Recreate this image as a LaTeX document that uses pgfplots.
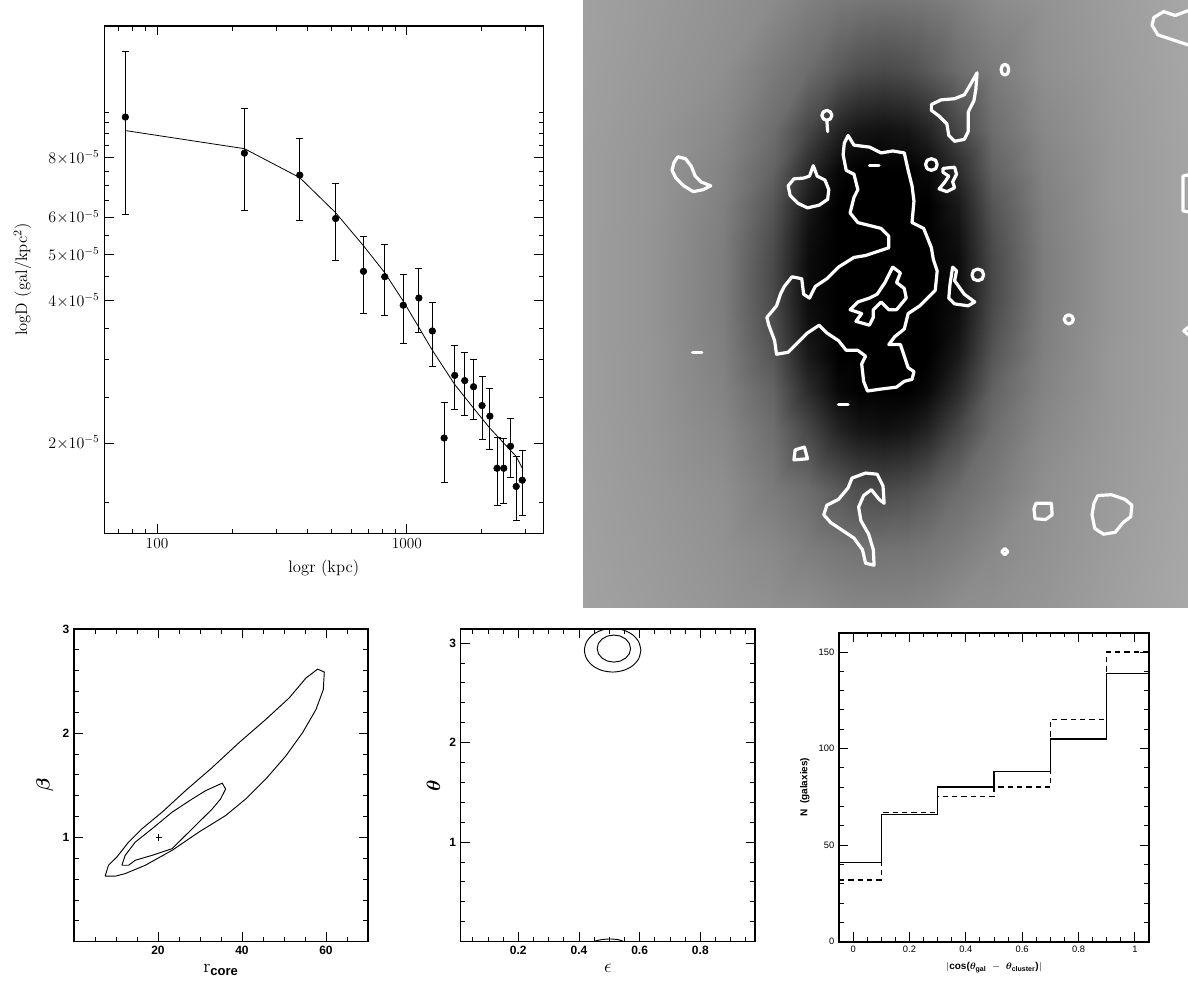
\documentclass[border=0pt]{standalone}
\usepackage{amsmath}
\usepackage{fontspec}
\setsansfont{Liberation Sans}
\usepackage{bm}
\usepackage{pgfplots}
\pgfplotsset{compat=1.18}
\usepackage{pgfplotstable}

\pgfplotstableread{
x y ep em
74.7 9.76e-5 3.67e-5 3.68e-5
223.8 8.19e-5 1.98e-5 1.99e-5
373 7.36e-5 1.44e-5 1.45e-5
519 5.96e-5 1.10e-5 1.10e-5
671 4.61e-5 0.85e-5 0.85e-5
816 4.49e-5 0.77e-5 0.77e-5
968 3.91e-5 0.63e-5 0.66e-5
1118 4.05e-5 0.62e-5 0.62e-5
1266 3.45e-5 0.51e-5 0.54e-5
1411 2.05e-5 0.39e-5 0.40e-5
1556 2.78e-5 0.43e-5 0.43e-5
1706 2.71e-5 0.40e-5 0.42e-5
1851 2.63e-5 0.37e-5 0.39e-5
2002 2.40e-5 0.36e-5 0.36e-5
2152 2.28e-5 0.33e-5 0.34e-5
2298 1.77e-5 0.29e-5 0.29e-5
2445 1.77e-5 0.28e-5 0.28e-5
2603 1.97e-5 0.28e-5 0.28e-5
2742 1.62e-5 0.25e-5 0.25e-5
2900 1.67e-5 0.26e-5 0.26e-5
}\profile

\pgfplotsset{
  pg/.style={scale only axis, anchor=south west, tick align=inside, tick pos=both,
    axis line style={line width=0.9pt}, every tick/.style={black, line width=0.7pt},
    major tick length=7pt, minor tick length=3.5pt, clip=true},
  colormap={imggray}{gray=(0) gray=(1)},
  wc/.style={white, line width=2.4pt, line join=round, line cap=round, mark=none},
}

\begin{document}
\begin{tikzpicture}
\useasboundingbox (0,0) rectangle (891pt,738.75pt);

% ---------------- top-left: density profile
\begin{axis}[pg, at={(78.2pt,338.8pt)}, width=329.25pt, height=380.5pt,
  xmode=log, ymode=log, xmin=61.5, xmax=3520, ymin=1.29e-5, ymax=1.52e-4,
  xtick={100,1000}, xticklabels={100,1000},
  minor xtick={70,80,90,200,300,400,500,600,700,800,900,2000,3000},
  ytick={2e-5,4e-5,5e-5,6e-5,8e-5},
  yticklabels={$2{\times}10^{-5}$,$4{\times}10^{-5}$,$5{\times}10^{-5}$,$6{\times}10^{-5}$,$8{\times}10^{-5}$},
  minor ytick={1.5e-5,2.5e-5,3e-5,3.5e-5,4.5e-5,5.5e-5,6.5e-5,7e-5,7.5e-5,8.5e-5,9e-5,9.5e-5,1e-4},
  tick label style={font=\fontsize{11.5}{13}\selectfont},
  label style={font=\fontsize{12.5}{14}\selectfont},
  xlabel={logr (kpc)}, ylabel={logD (gal/kpc\textsuperscript{2})},
  xlabel style={yshift=-2pt}, ylabel style={yshift=6pt}]
\addplot[black, line width=0.6pt] coordinates {(74.7,9.14e-5) (223.8,8.37e-5) (373,7.27e-5) (519,6.13e-5) (671,5.22e-5) (816,4.58e-5) (968,3.99e-5) (1118,3.51e-5) (1266,3.14e-5) (1556,2.66e-5) (1851,2.37e-5) (2152,2.15e-5) (2445,2.0e-5) (2742,1.875e-5) (2900,1.77e-5)};
\addplot[black, only marks, mark=*, mark size=2.5pt,
  error bars/.cd, y dir=both, y explicit,
  error bar style={line width=0.7pt},
  error mark options={rotate=90, mark size=2.6pt, line width=0.7pt}]
  table[x=x, y=y, y error plus=ep, y error minus=em] {\profile};
\end{axis}

% ---------------- top-right: grey image with white contours
\begin{axis}[scale only axis, anchor=south west, at={(437.25pt,283.5pt)}, width=453.75pt, height=455.25pt,
  xmin=0, xmax=1563, ymin=0, ymax=1568, y dir=reverse, hide axis, clip=true,
  colormap name=imggray, point meta min=0, point meta max=255]
\addplot[surf, shader=interp, mesh/cols=15, point meta=explicit] coordinates {
(0,0)[161] (181,0)[154] (362,0)[146] (491,0)[139] (581,0)[128] (659,0)[121] (710,0)[119] (775,0)[117] (839,0)[119] (891,0)[121] (969,0)[128] (1059,0)[139] (1188,0)[146] (1369,0)[157] (1563,0)[167]

(0,181)[160] (181,181)[152] (362,181)[143] (491,181)[123] (581,181)[109] (659,181)[90] (710,181)[79] (775,181)[74] (839,181)[79] (891,181)[90] (969,181)[109] (1059,181)[123] (1188,181)[143] (1369,181)[155] (1563,181)[166]

(0,336)[159] (181,336)[150] (362,336)[136] (491,336)[110] (581,336)[71] (659,336)[36] (710,336)[22] (775,336)[17] (839,336)[22] (891,336)[36] (969,336)[71] (1059,336)[110] (1188,336)[136] (1369,336)[153] (1563,336)[165]

(0,439)[158] (181,439)[149] (362,439)[131] (491,439)[99] (581,439)[43] (659,439)[8] (710,439)[0] (775,439)[0] (839,439)[0] (891,439)[8] (969,439)[43] (1059,439)[99] (1188,439)[131] (1369,439)[152] (1563,439)[164]

(0,530)[158] (181,530)[149] (362,530)[128] (491,530)[86] (581,530)[25] (659,530)[0] (710,530)[0] (775,530)[0] (839,530)[0] (891,530)[0] (969,530)[25] (1059,530)[86] (1188,530)[128] (1369,530)[152] (1563,530)[164]

(0,607)[158] (181,607)[148] (362,607)[126] (491,607)[78] (581,607)[16] (659,607)[0] (710,607)[0] (775,607)[0] (839,607)[0] (891,607)[0] (969,607)[16] (1059,607)[78] (1188,607)[126] (1369,607)[151] (1563,607)[164]

(0,672)[158] (181,672)[148] (362,672)[125] (491,672)[74] (581,672)[12] (659,672)[0] (710,672)[0] (775,672)[0] (839,672)[0] (891,672)[0] (969,672)[12] (1059,672)[74] (1188,672)[125] (1369,672)[151] (1563,672)[164]

(0,721)[158] (181,721)[148] (362,721)[125] (491,721)[73] (581,721)[11] (659,721)[0] (710,721)[0] (775,721)[0] (839,721)[0] (891,721)[0] (969,721)[11] (1059,721)[73] (1188,721)[125] (1369,721)[151] (1563,721)[164]

(0,775)[158] (181,775)[148] (362,775)[125] (491,775)[74] (581,775)[12] (659,775)[0] (710,775)[0] (775,775)[0] (839,775)[0] (891,775)[0] (969,775)[12] (1059,775)[74] (1188,775)[125] (1369,775)[151] (1563,775)[164]

(0,839)[158] (181,839)[148] (362,839)[126] (491,839)[78] (581,839)[16] (659,839)[0] (710,839)[0] (775,839)[0] (839,839)[0] (891,839)[0] (969,839)[16] (1059,839)[78] (1188,839)[126] (1369,839)[151] (1563,839)[164]

(0,917)[158] (181,917)[149] (362,917)[128] (491,917)[86] (581,917)[25] (659,917)[0] (710,917)[0] (775,917)[0] (839,917)[0] (891,917)[0] (969,917)[25] (1059,917)[86] (1188,917)[128] (1369,917)[152] (1563,917)[164]

(0,1007)[158] (181,1007)[149] (362,1007)[131] (491,1007)[99] (581,1007)[43] (659,1007)[8] (710,1007)[0] (775,1007)[0] (839,1007)[0] (891,1007)[8] (969,1007)[43] (1059,1007)[99] (1188,1007)[131] (1369,1007)[152] (1563,1007)[164]

(0,1111)[159] (181,1111)[150] (362,1111)[136] (491,1111)[110] (581,1111)[71] (659,1111)[36] (710,1111)[22] (775,1111)[17] (839,1111)[22] (891,1111)[36] (969,1111)[71] (1059,1111)[110] (1188,1111)[136] (1369,1111)[153] (1563,1111)[165]

(0,1266)[160] (181,1266)[152] (362,1266)[143] (491,1266)[123] (581,1266)[109] (659,1266)[90] (710,1266)[79] (775,1266)[74] (839,1266)[79] (891,1266)[90] (969,1266)[109] (1059,1266)[123] (1188,1266)[143] (1369,1266)[155] (1563,1266)[166]

(0,1421)[161] (181,1421)[154] (362,1421)[146] (491,1421)[137] (581,1421)[126] (659,1421)[119] (710,1421)[116] (775,1421)[115] (839,1421)[116] (891,1421)[119] (969,1421)[126] (1059,1421)[137] (1188,1421)[146] (1369,1421)[157] (1563,1421)[167]

(0,1568)[162] (181,1568)[156] (362,1568)[149] (491,1568)[144] (581,1568)[142] (659,1568)[136] (710,1568)[134] (775,1568)[133] (839,1568)[134] (891,1568)[136] (969,1568)[142] (1059,1568)[144] (1188,1568)[149] (1369,1568)[159] (1563,1568)[168]
};
% main blob
\addplot[wc] coordinates {(685,350) (700,375) (740,380) (770,395) (800,390) (830,395) (840,440) (850,480) (855,520) (850,575) (880,590) (900,640) (905,670) (915,700) (910,750) (890,770) (870,790) (840,810) (830,850) (805,870) (790,890) (820,890) (830,920) (840,950) (855,960) (850,980) (830,985) (810,1000) (770,1005) (735,1010) (725,985) (720,940) (730,920) (710,905) (680,905) (660,880) (630,860) (610,840) (580,860) (560,880) (530,910) (500,915) (495,880) (480,840) (475,820) (500,790) (510,760) (520,740) (540,715) (565,720) (570,760) (585,770) (600,740) (630,720) (660,690) (700,665) (730,660) (760,650) (790,640) (790,610) (770,590) (730,580) (710,575) (690,550) (700,510) (710,490) (700,450) (680,440) (672,400) (675,370) (685,350)};
\addplot[wc] coordinates {(800,690) (820,705) (810,730) (830,745) (835,770) (810,800) (790,800) (770,780) (750,800) (750,820) (740,840) (705,830) (720,810) (690,800) (710,780) (740,770) (760,760) (780,730) (790,710) (800,690)};
% top-right blob
\addplot[wc] coordinates {(1018,188) (1015,230) (1010,260) (995,290) (995,340) (985,360) (960,365) (945,350) (940,320) (920,300) (900,285) (900,270) (925,258) (960,255) (985,245) (1000,220) (1018,188)};
% small rings
\addplot[wc] coordinates {(1100,180) (1097,190) (1090,194) (1083,190) (1080,180) (1083,170) (1090,166) (1097,170) (1100,180)};
\addplot[wc] coordinates {(643,298) (639,307) (630,311) (621,307) (617,298) (621,289) (630,285) (639,289) (643,298)};
\addplot[wc] coordinates {(630,311) (632,340)};
\addplot[wc] coordinates {(915,425) (911,436) (900,440) (889,436) (885,425) (889,414) (900,410) (911,414) (915,425)};
\addplot[wc] coordinates {(930,435) (960,432) (965,450) (955,470) (960,485) (940,495) (920,488) (935,470) (945,455) (930,445) (930,435)};
\addplot[wc] coordinates {(1035,710) (1031,721) (1020,725) (1009,721) (1005,710) (1009,699) (1020,695) (1031,699) (1035,710)};
\addplot[wc] coordinates {(955,690) (965,700) (960,725) (985,760) (1012,780) (995,790) (960,785) (945,770) (948,735) (955,690)};
\addplot[wc] coordinates {(1267,825) (1263,833) (1255,837) (1247,833) (1243,825) (1247,817) (1255,813) (1263,817) (1267,825)};
\addplot[wc] coordinates {(1098,1425) (1090,1433) (1082,1425) (1090,1417) (1098,1425)};
% left blobs
\addplot[wc] coordinates {(245,405) (265,410) (280,430) (290,455) (305,470) (330,480) (310,490) (285,495) (260,480) (240,460) (230,440) (235,420) (245,405)};
\addplot[wc] coordinates {(595,428) (605,455) (625,465) (635,490) (632,515) (610,530) (580,537) (555,525) (535,505) (530,480) (545,462) (570,460) (585,455) (595,428)};
% dashes
\addplot[wc] coordinates {(740,428) (765,428)};
\addplot[wc] coordinates {(283,910) (307,910)};
\addplot[wc] coordinates {(660,1045) (685,1045)};
% lower shapes
\addplot[wc] coordinates {(548,1162) (572,1155) (580,1185) (545,1188) (548,1162)};
\addplot[wc] coordinates {(760,1225) (775,1255) (778,1300) (765,1290) (745,1265) (725,1280) (712,1310) (718,1345) (738,1380) (750,1420) (752,1460) (730,1455) (722,1420) (700,1390) (670,1370) (640,1350) (622,1330) (630,1305) (660,1290) (685,1260) (695,1235) (730,1222) (760,1225)};
\addplot[wc] coordinates {(1170,1300) (1210,1300) (1212,1330) (1195,1342) (1168,1340) (1165,1315) (1170,1300)};
\addplot[wc] coordinates {(1330,1280) (1365,1278) (1400,1290) (1418,1305) (1415,1335) (1395,1350) (1375,1375) (1345,1380) (1322,1365) (1315,1330) (1320,1300) (1330,1280)};
% right edge pieces
\addplot[wc] coordinates {(1570,25) (1530,40) (1500,30) (1475,45) (1470,65) (1485,90) (1515,100) (1545,110) (1570,118)};
\addplot[wc] coordinates {(1570,450) (1550,455) (1550,545) (1570,548)};
\addplot[wc] coordinates {(1570,840) (1552,855) (1570,870)};
\end{axis}

% ---------------- bottom-left: r_core vs beta
\begin{axis}[pg, at={(55.5pt,32.5pt)}, width=220.5pt, height=234.5pt,
  xmin=0, xmax=70, ymin=0, ymax=3,
  xtick={20,40,60}, minor xtick={5,10,15,25,30,35,45,50,55,65},
  ytick={1,2,3}, minor ytick={0.2,0.4,0.6,0.8,1.2,1.4,1.6,1.8,2.2,2.4,2.6,2.8},
  /pgf/number format/assume math mode=true,
  tick label style={font=\sffamily\bfseries\fontsize{9}{10}\selectfont},
  xlabel={$\mathrm{r}_{\text{\sffamily\bfseries core}}$}, ylabel={$\bm{\beta}$},
  label style={font=\fontsize{14}{15}\selectfont}]
\addplot[black, line width=0.7pt] coordinates {(7.41,0.628) (8.21,0.733) (10.20,0.812) (12.99,0.955) (16.18,1.083) (20.96,1.242) (26.53,1.448) (32.91,1.671) (39.28,1.909) (45.66,2.132) (51.24,2.339) (55.22,2.529) (58.01,2.615) (59.60,2.587) (59.36,2.418) (57.61,2.227) (54.42,2.005) (50.44,1.782) (45.66,1.560) (40.88,1.369) (36.10,1.210) (29.72,1.051) (23.35,0.876) (16.97,0.733) (12.19,0.653) (9.80,0.628) (7.41,0.628)};
\addplot[black, line width=0.7pt] coordinates {(11.39,0.733) (12.19,0.828) (14.58,0.955) (18.57,1.083) (23.35,1.242) (28.13,1.369) (31.31,1.448) (35.30,1.521) (36.10,1.464) (34.90,1.369) (32.91,1.273) (29.72,1.146) (26.53,1.019) (23.35,0.892) (18.57,0.828) (14.58,0.781) (12.99,0.733) (11.39,0.733)};
\addplot[black, only marks, mark=+, mark size=2.5pt, mark options={line width=0.6pt}] coordinates {(20.2,1.0)};
\end{axis}

% ---------------- bottom-middle: epsilon vs theta
\begin{axis}[pg, at={(345.5pt,32.5pt)}, width=220.7pt, height=234.5pt,
  xmin=0.01, xmax=0.98, ymin=0, ymax=3.1416,
  xtick={0.2,0.4,0.6,0.8}, minor xtick={0.05,0.1,0.15,0.25,0.3,0.35,0.45,0.5,0.55,0.65,0.7,0.75,0.85,0.9,0.95},
  ytick={1,2,3}, minor ytick={0.2,0.4,0.6,0.8,1.2,1.4,1.6,1.8,2.2,2.4,2.6,2.8,3.0},
  /pgf/number format/assume math mode=true,
  tick label style={font=\sffamily\bfseries\fontsize{9}{10}\selectfont},
  xlabel={$\epsilon$}, ylabel={$\bm{\theta}$},
  label style={font=\fontsize{14}{15}\selectfont}]
\addplot[black, line width=0.7pt, smooth] coordinates {(0.604,2.928) (0.597,3.012) (0.577,3.083) (0.547,3.130) (0.511,3.147) (0.475,3.130) (0.445,3.083) (0.425,3.012) (0.418,2.928) (0.425,2.844) (0.445,2.773) (0.475,2.726) (0.511,2.709) (0.547,2.726) (0.577,2.773) (0.597,2.844) (0.604,2.928)};
\addplot[black, line width=0.7pt] coordinates {(0.570,2.945) (0.566,2.997) (0.554,3.041) (0.536,3.071) (0.515,3.081) (0.494,3.071) (0.476,3.041) (0.464,2.997) (0.460,2.945) (0.464,2.893) (0.476,2.849) (0.494,2.819) (0.515,2.809) (0.536,2.819) (0.554,2.849) (0.566,2.893) (0.570,2.945)};
\addplot[black, line width=0.7pt, smooth] coordinates {(0.445,0.0) (0.47,0.018) (0.50,0.027) (0.53,0.020) (0.548,0.0)};
\end{axis}

% ---------------- bottom-right: histogram
\begin{axis}[pg, at={(629.25pt,32.5pt)}, width=232.5pt, height=231.75pt,
  axis line style={line width=1.3pt},
  xmin=-0.05, xmax=1.05, ymin=0, ymax=160,
  xtick={0,0.2,0.4,0.6,0.8,1}, minor xtick={0.05,0.1,0.15,0.25,0.3,0.35,0.45,0.5,0.55,0.65,0.7,0.75,0.85,0.9,0.95},
  ytick={0,50,100,150}, minor ytick={10,20,30,40,60,70,80,90,110,120,130,140},
  /pgf/number format/assume math mode=true,
  tick label style={font=\sffamily\fontsize{7}{8}\selectfont},
  label style={font=\sffamily\bfseries\fontsize{7.5}{8.5}\selectfont},
  ylabel={N\ \ (galaxies)},
  xlabel={$|$cos($\bm{\theta}_{\text{\sffamily\bfseries gal}}$\ \ $-$\ \ $\bm{\theta}_{\text{\sffamily\bfseries cluster}}$)$|$}]
\addplot[black, line width=1pt, const plot] coordinates {(-0.05,41) (0.1,66) (0.3,80) (0.5,88) (0.7,105) (0.9,139) (1.05,139)};
\addplot[black, line width=1pt, dash pattern=on 4pt off 3pt, const plot] coordinates {(-0.05,32) (0.1,67) (0.3,75) (0.5,80) (0.7,115) (0.9,150) (1.05,150)};
\end{axis}
\end{tikzpicture}
\end{document}
